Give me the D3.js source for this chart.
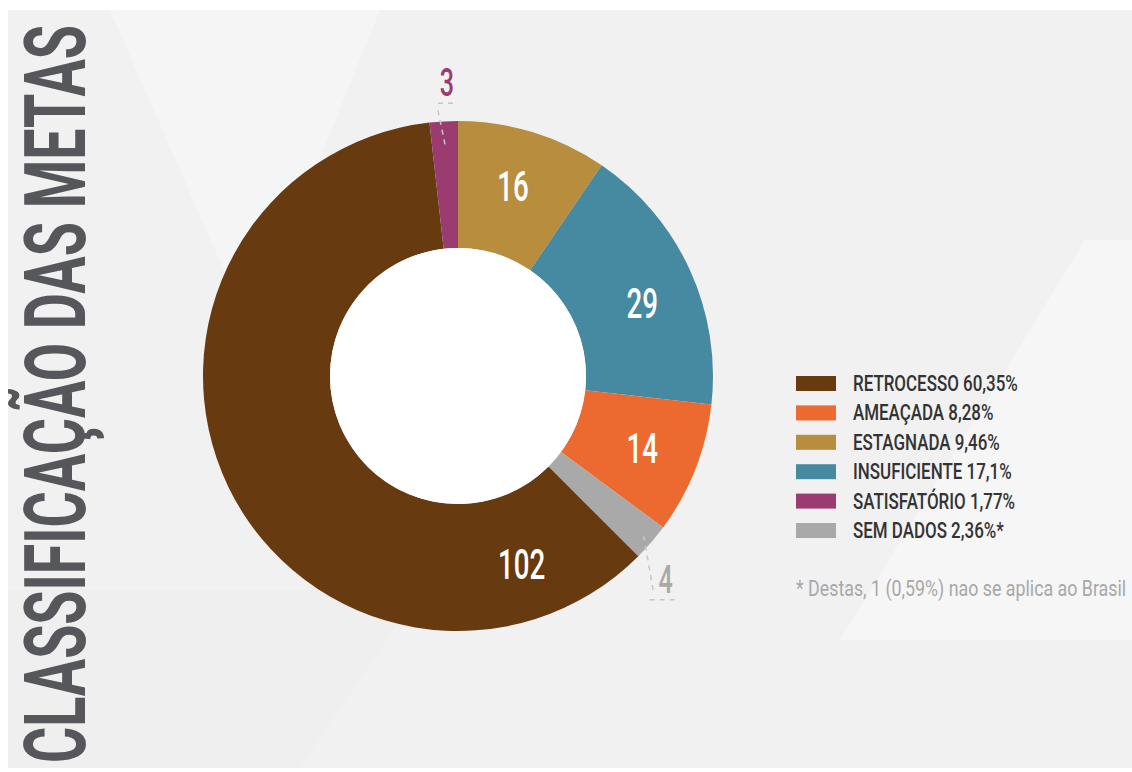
<!DOCTYPE html>
<html>
<head>
<meta charset="utf-8">
<script src="https://cdn.jsdelivr.net/npm/d3@7"></script>
<style>
  body { margin: 0; background: #fff; }
  svg { display: block; }
</style>
</head>
<body>
<div id="chart"></div>
<script>
// slices, clockwise from 12 o'clock
var categories = ["ESTAGNADA", "INSUFICIENTE", "AMEAÇADA", "SEM DADOS", "RETROCESSO", "SATISFATÓRIO"];
var values = [16, 29, 14, 4, 102, 3];
var colors = ["#b98d3e", "#468aa2", "#ec6a30", "#a9a9a9", "#673a10", "#9a3c72"];
// where the number sits along its slice (0..1), null = outside with leader
var labelAt = [0.47, 0.55, 0.5, null, 0.12, null];

// legend order and texts
var legendNames = ["RETROCESSO", "AMEAÇADA", "ESTAGNADA", "INSUFICIENTE", "SATISFATÓRIO", "SEM DADOS"];
var legendPct = ["60,35%", "8,28%", "9,46%", "17,1%", "1,77%", "2,36%*"];
var footnote = "* Destas, 1 (0,59%) nao se aplica ao Brasil";
var title = "CLASSIFICAÇÃO DAS METAS";

var W = 1132, H = 772;
var cx = 458, cy = 376, rOuter = 255, rInner = 128;

var svg = d3.select("#chart").append("svg")
  .attr("width", W).attr("height", H);

// background panel
svg.append("rect").attr("x", 8).attr("y", 10).attr("width", W - 8).attr("height", H - 14)
  .attr("fill", "#f1f1f1");
// faint shapes of the background
svg.append("path").attr("d", "M110,10 L380,10 L250,330 Z").attr("fill", "#f5f5f5");
svg.append("path").attr("d", "M1085,240 L1132,240 L1132,640 L840,640 Z").attr("fill", "#f6f6f6");
svg.append("path").attr("d", "M8,590 L420,590 L300,768 L8,768 Z").attr("fill", "#efefef");

// title
svg.append("text")
  .attr("transform", "translate(85," + 394 + ") rotate(-90)")
  .attr("text-anchor", "middle")
  .attr("font-family", "Roboto")
  .attr("font-weight", 700)
  .attr("font-size", 85)
  .attr("fill", "#56575a")
  .attr("textLength", 738)
  .attr("lengthAdjust", "spacingAndGlyphs")
  .text(title);

var g = svg.append("g").attr("transform", "translate(" + cx + "," + cy + ")");

var pie = d3.pie().sort(null).value(function(d) { return d; });
var arcs = pie(values);
var arc = d3.arc().innerRadius(rInner).outerRadius(rOuter);

g.selectAll("path.slice")
  .data(arcs)
  .enter().append("path")
  .attr("class", "slice")
  .attr("d", arc)
  .attr("fill", function(d, i) { return colors[i]; });

// white hole
g.append("circle").attr("r", rInner).attr("fill", "#fff");

function polar(a, r) { return [r * Math.sin(a), -r * Math.cos(a)]; }

function number(x, y, txt, size, fill) {
  g.append("g")
    .attr("transform", "translate(" + x + "," + y + ") scale(0.66,1)")
    .append("text")
    .attr("text-anchor", "middle")
    .attr("dy", "0.36em")
    .attr("font-family", "Roboto")
    .attr("font-weight", 500)
    .attr("font-size", size)
    .attr("fill", fill)
    .text(txt);
}

// numbers inside slices
arcs.forEach(function(d, i) {
  if (labelAt[i] == null) return;
  var a = d.startAngle + (d.endAngle - d.startAngle) * labelAt[i];
  var p = polar(a, 198);
  number(p[0], p[1], values[i], 42, "#fff");
});

// outside numbers with dashed leaders
function dashed(x1, y1, x2, y2) {
  g.append("line")
    .attr("x1", x1).attr("y1", y1).attr("x2", x2).attr("y2", y2)
    .attr("stroke", "#c6c6c6").attr("stroke-width", 1.5).attr("stroke-dasharray", "5,5");
}
arcs.forEach(function(d, i) {
  if (labelAt[i] != null) return;
  var mid = (d.startAngle + d.endAngle) / 2;
  if (Math.cos(mid) > 0) {
    // above the ring
    var p = polar(mid, 232);
    dashed(p[0], p[1], p[0] - 8, p[1] - 39);
    dashed(p[0] - 7, p[1] - 41, p[0] + 9, p[1] - 41);
    number(p[0] + 2, p[1] - 62, values[i], 38, "#9a3c72");
  } else {
    // below the ring
    var q = polar(mid, 245);
    dashed(q[0], q[1], q[0] + 10, q[1] + 58);
    dashed(q[0] + 6, q[1] + 64, q[0] + 36, q[1] + 64);
    number(q[0] + 22, q[1] + 44, values[i], 38, "#a9a9a9");
  }
});

// legend
var legendColor = d3.scaleOrdinal().domain(categories).range(colors);
var ly = d3.scalePoint().domain(legendNames).range([383, 530]);
var leg = svg.append("g");
legendNames.forEach(function(name, i) {
  var y = ly(name);
  leg.append("rect").attr("x", 796).attr("y", y - 7).attr("width", 40).attr("height", 15)
    .attr("fill", legendColor(name));
  leg.append("g")
    .attr("transform", "translate(853," + y + ") scale(0.77,1)")
    .append("text")
    .attr("dy", "0.36em")
    .attr("font-family", "Roboto")
    .attr("font-weight", 500)
    .attr("font-size", 22)
    .attr("fill", "#333")
    .text(name + " " + legendPct[i]);
});

svg.append("g")
  .attr("transform", "translate(796,588) scale(0.81,1)")
  .append("text")
  .attr("dy", "0.36em")
  .attr("font-family", "Roboto")
  .attr("font-size", 22)
  .attr("fill", "#a8a8a8")
  .text(footnote);
</script>
</body>
</html>
